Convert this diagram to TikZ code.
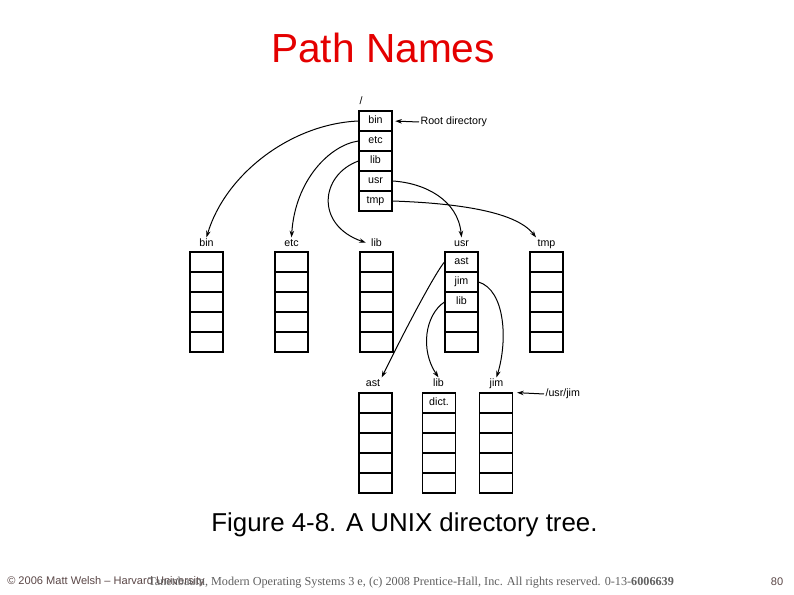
\documentclass[tikz,border=0pt]{standalone}
\usepackage{fontspec}
\setmainfont{Liberation Sans}
\newfontfamily\timesfont{Liberation Serif}
\usetikzlibrary{arrows.meta}
\definecolor{titlered}{RGB}{228,0,0}
\definecolor{footbrown}{RGB}{90,70,70}
\definecolor{footgray}{RGB}{95,95,95}
\begin{document}
\begin{tikzpicture}[x=0.75pt,y=-0.75pt,
  cell/.style={draw=black, line width=0.8pt, minimum width=24.75pt, minimum height=15pt,
    inner sep=0pt, text height=6pt, text depth=1.5pt, font=\fontsize{8}{9}\selectfont},
  dirlab/.style={font=\fontsize{8}{9}\selectfont, inner sep=1pt, text height=6pt, text depth=1.5pt},
  ptr/.style={line width=0.75pt, -{Stealth[length=5pt,width=3.4pt]}},
]
\useasboundingbox (0,0) rectangle (794,595);

% title and caption
\node[font=\fontsize{30.5}{33}\selectfont, text=titlered] (title) at (383,48) {Path Names};
\node[font=\fontsize{19.4}{22}\selectfont] (caption) at (404.5,525) {Figure 4-8. A UNIX directory tree.};

% root directory
\node[dirlab] (slashlab) at (361,102) {/};
\foreach \t [count=\i] in {bin,etc,lib,usr,tmp}
  \node[cell] (r\i) at (375.5,{101+20*\i}) {\t};
\node[dirlab, anchor=west] (rootlab) at (419,122) {Root directory};
\draw[ptr, shorten >=2pt] (rootlab.west) -- (r1.east);

% second level
\foreach \n/\x in {bin/206.5,etc/291.5,lib/376.5,tmp/546.5}{
  \foreach \i in {1,...,5}
    \node[cell] (\n\i) at (\x,{242+20*\i}) {};
  \node[dirlab] (\n lab) at (\x,244) {\n};
}
\node[cell] (usr1) at (461.5,262) {ast};
\node[cell] (usr2) at (461.5,282) {jim};
\node[cell] (usr3) at (461.5,302) {lib};
\node[cell] (usr4) at (461.5,322) {};
\node[cell] (usr5) at (461.5,342) {};
\node[dirlab] (usrlab) at (461.5,244) {usr};

% third level
\foreach \i in {1,...,5}{
  \node[cell] (ast\i) at (375.5,{383+20*\i}) {};
  \node[cell] (jim\i) at (496,{383+20*\i}) {};
}
\node[cell] (ulib1) at (439,403) {dict.};
\foreach \i in {2,...,5}
  \node[cell] (ulib\i) at (439,{383+20*\i}) {};
\node[dirlab] (astlab) at (373,384) {ast};
\node[dirlab] (uliblab) at (438.5,384) {lib};
\node[dirlab] (jimlab) at (496.5,384) {jim};
\node[dirlab, anchor=west] (usrjimlab) at (544,394) {/usr/jim};
\draw[ptr, shorten >=3pt] (usrjimlab.west) -- (jim1.north east);

% pointers from root
\draw[ptr] (r1.west) .. controls (290,124) and (225,175) .. (binlab.north);
\draw[ptr] (r2.west) .. controls (330,145) and (295,180) .. (etclab.north);
\draw[ptr, shorten >=3pt] (r3.west) .. controls (320,175) and (315,225) .. (liblab.west);
\draw[ptr] (r4.east) .. controls (425,183) and (458,200) .. (usrlab.north);
\draw[ptr] (r5.east) .. controls (450,203) and (515,210) .. (tmplab.north west);

% pointers from usr
\draw[ptr] (usr1.west) .. controls (436,272) and (410,320) .. (astlab.north east);
\draw[ptr] (usr2.east) .. controls (505,290) and (508,340) .. (jimlab.north);
\draw[ptr] (usr3.west) .. controls (425,315) and (420,350) .. (uliblab.north);

% footer
\node[anchor=base west, inner sep=0pt, text=footbrown, font=\fontsize{8.3}{10}\selectfont] (welsh) at (7,585) {© 2006 Matt Welsh – Harvard University};
\node[anchor=base west, inner sep=0pt, text=footgray, font=\timesfont\fontsize{9.15}{11}\selectfont] (tanen) at (148,586) {Tanenbaum, Modern Operating Systems 3 e, (c) 2008 Prentice-Hall, Inc. All rights reserved. 0-13-\textbf{6006639}};
\node[anchor=base, inner sep=0pt, text=footbrown, font=\fontsize{8.3}{10}\selectfont] (pagenum) at (777,586) {80};
\end{tikzpicture}
\end{document}
